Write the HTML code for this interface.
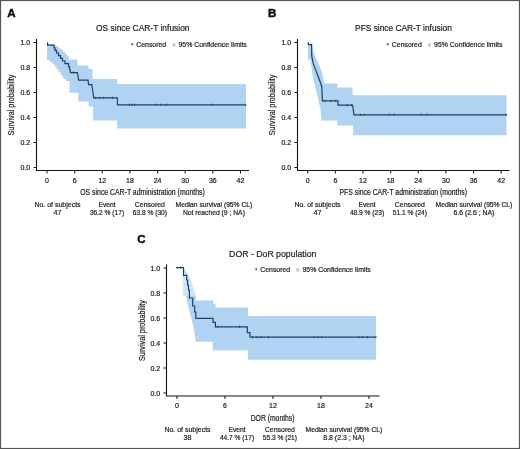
<!DOCTYPE html><html><head><meta charset="utf-8"><style>html,body{margin:0;padding:0;background:#fff;}svg{display:block;will-change:transform;}</style></head><body>
<svg width="520" height="449" viewBox="0 0 520 449" font-family='"Liberation Sans", sans-serif'>
<rect x="0" y="0" width="520" height="449" fill="#fff"/>
<text x="7.3" y="17.1" font-size="11.6" font-weight="bold" fill="#111" stroke="#111" stroke-width="0.45">A</text>
<text x="142.8" y="30.9" font-size="9" text-anchor="middle" font-weight="normal" fill="#222" stroke="#222" stroke-width="0.2" textLength="93.5" lengthAdjust="spacingAndGlyphs" >OS since CAR-T infusion</text>
<path d="M131.1,44.2h2.2M132.2,43.1v2.2" stroke="#333" stroke-width="0.75"/>
<text x="136.2" y="46.5" font-size="7" text-anchor="start" font-weight="normal" fill="#222" stroke="#222" stroke-width="0.2" textLength="30" lengthAdjust="spacingAndGlyphs" >Censored</text>
<rect x="172.3" y="43.4" width="3.2" height="3.2" fill="#b3d0ec"/>
<text x="178.5" y="46.5" font-size="7" text-anchor="start" font-weight="normal" fill="#222" stroke="#222" stroke-width="0.2" textLength="68.3" lengthAdjust="spacingAndGlyphs" >95% Confidence limits</text>
<polygon points="47.00,44.20 54.50,44.20 54.50,45.50 55.00,45.50 57.00,45.50 57.00,47.00 59.00,47.00 59.00,48.50 61.00,48.50 61.00,50.00 63.00,50.00 63.00,52.00 65.00,52.00 65.00,54.00 67.00,54.00 67.00,56.00 68.50,56.00 68.50,59.50 77.50,59.50 77.50,65.50 88.50,65.50 88.50,69.00 92.60,69.00 92.60,79.00 117.20,79.00 117.20,84.00 246.00,84.00 246.00,128.50 117.20,128.50 117.20,120.50 93.00,120.50 93.00,106.50 88.60,106.50 88.60,101.50 78.30,101.50 78.30,92.70 69.50,92.70 69.50,81.00 66.00,81.00 66.00,79.40 64.50,79.40 64.50,78.00 62.50,78.00 62.50,75.00 60.50,75.00 60.50,72.00 58.50,72.00 58.50,69.00 56.50,69.00 56.50,66.50 54.50,66.50 54.50,64.00 52.50,64.00 52.50,62.00 50.00,62.00 50.00,60.00 47.00,60.00" fill="#afd3f1"/>
<polyline points="47.60,42.30 47.60,45.20 54.00,45.20 54.00,47.80 55.00,47.80 55.00,50.40 56.50,50.40 56.50,53.00 58.50,53.00 58.50,55.70 60.50,55.70 60.50,58.40 62.50,58.40 62.50,61.00 65.00,61.00 65.00,63.70 68.50,63.70 68.50,66.50 69.50,66.50 69.50,69.50 70.00,69.50 70.50,72.60 77.30,72.60 78.00,76.00 78.60,80.20 88.00,80.20 88.60,84.60 91.80,84.60 92.30,88.00 93.10,93.00 93.70,97.90 117.40,97.90 117.40,104.80 246.00,104.80" fill="none" stroke="#1d4166" stroke-width="1.2" stroke-linejoin="miter"/>
<path d="M73.5,71.39999999999999v2.4" stroke="#1d4166" stroke-width="0.8"/>
<path d="M95.2,96.7v2.4" stroke="#1d4166" stroke-width="0.8"/>
<path d="M99.8,96.7v2.4" stroke="#1d4166" stroke-width="0.8"/>
<path d="M103.7,96.7v2.4" stroke="#1d4166" stroke-width="0.8"/>
<path d="M112.5,96.7v2.4" stroke="#1d4166" stroke-width="0.8"/>
<path d="M129.5,103.6v2.4" stroke="#1d4166" stroke-width="0.8"/>
<path d="M132.2,103.6v2.4" stroke="#1d4166" stroke-width="0.8"/>
<path d="M134.5,103.6v2.4" stroke="#1d4166" stroke-width="0.8"/>
<path d="M155.8,103.6v2.4" stroke="#1d4166" stroke-width="0.8"/>
<path d="M160.9,103.6v2.4" stroke="#1d4166" stroke-width="0.8"/>
<path d="M166.5,103.6v2.4" stroke="#1d4166" stroke-width="0.8"/>
<path d="M211.6,103.6v2.4" stroke="#1d4166" stroke-width="0.8"/>
<path d="M245.7,103.6v2.4" stroke="#1d4166" stroke-width="0.8"/>
<path d="M36.5,39V171.0M36.0,170.5H249" stroke="#111" stroke-width="1.1" fill="none"/>
<path d="M33.5,167.5H36.5" stroke="#111" stroke-width="1"/>
<text x="30.2" y="170.1" font-size="7" text-anchor="end" font-weight="normal" fill="#222" stroke="#222" stroke-width="0.2" >0.0</text>
<path d="M33.5,142.5H36.5" stroke="#111" stroke-width="1"/>
<text x="30.2" y="145.1" font-size="7" text-anchor="end" font-weight="normal" fill="#222" stroke="#222" stroke-width="0.2" >0.2</text>
<path d="M33.5,117.5H36.5" stroke="#111" stroke-width="1"/>
<text x="30.2" y="120.1" font-size="7" text-anchor="end" font-weight="normal" fill="#222" stroke="#222" stroke-width="0.2" >0.4</text>
<path d="M33.5,92.5H36.5" stroke="#111" stroke-width="1"/>
<text x="30.2" y="95.1" font-size="7" text-anchor="end" font-weight="normal" fill="#222" stroke="#222" stroke-width="0.2" >0.6</text>
<path d="M33.5,67.5H36.5" stroke="#111" stroke-width="1"/>
<text x="30.2" y="70.1" font-size="7" text-anchor="end" font-weight="normal" fill="#222" stroke="#222" stroke-width="0.2" >0.8</text>
<path d="M33.5,42.5H36.5" stroke="#111" stroke-width="1"/>
<text x="30.2" y="45.1" font-size="7" text-anchor="end" font-weight="normal" fill="#222" stroke="#222" stroke-width="0.2" >1.0</text>
<path d="M47.0,170.5v3" stroke="#111" stroke-width="1"/>
<text x="47.0" y="182.5" font-size="7" text-anchor="middle" font-weight="normal" fill="#222" stroke="#222" stroke-width="0.2" >0</text>
<path d="M74.64,170.5v3" stroke="#111" stroke-width="1"/>
<text x="74.64" y="182.5" font-size="7" text-anchor="middle" font-weight="normal" fill="#222" stroke="#222" stroke-width="0.2" >6</text>
<path d="M102.28,170.5v3" stroke="#111" stroke-width="1"/>
<text x="102.28" y="182.5" font-size="7" text-anchor="middle" font-weight="normal" fill="#222" stroke="#222" stroke-width="0.2" >12</text>
<path d="M129.92000000000002,170.5v3" stroke="#111" stroke-width="1"/>
<text x="129.92000000000002" y="182.5" font-size="7" text-anchor="middle" font-weight="normal" fill="#222" stroke="#222" stroke-width="0.2" >18</text>
<path d="M157.56,170.5v3" stroke="#111" stroke-width="1"/>
<text x="157.56" y="182.5" font-size="7" text-anchor="middle" font-weight="normal" fill="#222" stroke="#222" stroke-width="0.2" >24</text>
<path d="M185.2,170.5v3" stroke="#111" stroke-width="1"/>
<text x="185.2" y="182.5" font-size="7" text-anchor="middle" font-weight="normal" fill="#222" stroke="#222" stroke-width="0.2" >30</text>
<path d="M212.84,170.5v3" stroke="#111" stroke-width="1"/>
<text x="212.84" y="182.5" font-size="7" text-anchor="middle" font-weight="normal" fill="#222" stroke="#222" stroke-width="0.2" >36</text>
<path d="M240.48,170.5v3" stroke="#111" stroke-width="1"/>
<text x="240.48" y="182.5" font-size="7" text-anchor="middle" font-weight="normal" fill="#222" stroke="#222" stroke-width="0.2" >42</text>
<text x="142.5" y="195.1" font-size="8.2" text-anchor="middle" font-weight="normal" fill="#222" stroke="#222" stroke-width="0.2" textLength="124.5" lengthAdjust="spacingAndGlyphs" >OS since CAR-T administration (months)</text>
<text x="0" y="0" font-size="8.6" text-anchor="middle" fill="#222" stroke="#222" stroke-width="0.2" textLength="61" lengthAdjust="spacingAndGlyphs" transform="translate(14.2,105) rotate(-90)">Survival probability</text>
<text x="57.5" y="206.6" font-size="7" text-anchor="middle" font-weight="normal" fill="#222" stroke="#222" stroke-width="0.2" textLength="46.2" lengthAdjust="spacingAndGlyphs" >No. of subjects</text>
<text x="107" y="206.6" font-size="7" text-anchor="middle" font-weight="normal" fill="#222" stroke="#222" stroke-width="0.2" textLength="17.2" lengthAdjust="spacingAndGlyphs" >Event</text>
<text x="149.9" y="206.6" font-size="7" text-anchor="middle" font-weight="normal" fill="#222" stroke="#222" stroke-width="0.2" textLength="30.2" lengthAdjust="spacingAndGlyphs" >Censored</text>
<text x="213.9" y="206.6" font-size="7" text-anchor="middle" font-weight="normal" fill="#222" stroke="#222" stroke-width="0.2" textLength="76.6" lengthAdjust="spacingAndGlyphs" >Median survival (95% CL)</text>
<text x="57.5" y="214.7" font-size="7" text-anchor="middle" font-weight="normal" fill="#222" stroke="#222" stroke-width="0.2" textLength="8" lengthAdjust="spacingAndGlyphs" >47</text>
<text x="107" y="214.7" font-size="7" text-anchor="middle" font-weight="normal" fill="#222" stroke="#222" stroke-width="0.2" textLength="34.2" lengthAdjust="spacingAndGlyphs" >36.2 % (17)</text>
<text x="149.9" y="214.7" font-size="7" text-anchor="middle" font-weight="normal" fill="#222" stroke="#222" stroke-width="0.2" textLength="34.1" lengthAdjust="spacingAndGlyphs" >63.8 % (30)</text>
<text x="213.9" y="214.7" font-size="7" text-anchor="middle" font-weight="normal" fill="#222" stroke="#222" stroke-width="0.2" textLength="62" lengthAdjust="spacingAndGlyphs" >Not reached (9 ; NA)</text>
<text x="268" y="17.1" font-size="11.6" font-weight="bold" fill="#111" stroke="#111" stroke-width="0.45">B</text>
<text x="403.5" y="30.9" font-size="9" text-anchor="middle" font-weight="normal" fill="#222" stroke="#222" stroke-width="0.2" textLength="96.8" lengthAdjust="spacingAndGlyphs" >PFS since CAR-T infusion</text>
<path d="M386.69999999999993,44.2h2.2M387.79999999999995,43.1v2.2" stroke="#333" stroke-width="0.75"/>
<text x="391.79999999999995" y="46.5" font-size="7" text-anchor="start" font-weight="normal" fill="#222" stroke="#222" stroke-width="0.2" textLength="30" lengthAdjust="spacingAndGlyphs" >Censored</text>
<rect x="427.9" y="43.4" width="3.2" height="3.2" fill="#b3d0ec"/>
<text x="434.1" y="46.5" font-size="7" text-anchor="start" font-weight="normal" fill="#222" stroke="#222" stroke-width="0.2" textLength="68.3" lengthAdjust="spacingAndGlyphs" >95% Confidence limits</text>
<polygon points="308.00,43.80 311.70,43.80 312.50,48.00 314.80,55.60 318.50,63.50 321.80,71.20 323.40,78.90 324.00,83.50 337.40,83.50 337.40,87.50 352.60,87.50 352.60,95.30 506.50,95.30 506.50,135.30 353.20,135.30 353.20,125.50 337.40,125.50 337.40,120.50 321.50,120.50 320.50,109.00 317.10,94.50 313.20,78.90 310.90,63.40 310.50,59.40 308.00,59.40" fill="#afd3f1"/>
<polyline points="308.40,42.30 308.40,44.70 311.60,44.70 311.70,55.60 313.20,63.40 315.60,69.60 317.90,75.80 320.20,82.00 321.80,86.70 322.40,100.90 338.00,100.90 338.00,105.20 352.60,105.20 354.00,114.80 506.50,114.80" fill="none" stroke="#1d4166" stroke-width="1.2" stroke-linejoin="miter"/>
<path d="M325,99.7v2.4" stroke="#1d4166" stroke-width="0.8"/>
<path d="M331,99.7v2.4" stroke="#1d4166" stroke-width="0.8"/>
<path d="M335.7,99.7v2.4" stroke="#1d4166" stroke-width="0.8"/>
<path d="M347.2,104.0v2.4" stroke="#1d4166" stroke-width="0.8"/>
<path d="M351.5,104.0v2.4" stroke="#1d4166" stroke-width="0.8"/>
<path d="M360.6,113.6v2.4" stroke="#1d4166" stroke-width="0.8"/>
<path d="M364.4,113.6v2.4" stroke="#1d4166" stroke-width="0.8"/>
<path d="M389.4,113.6v2.4" stroke="#1d4166" stroke-width="0.8"/>
<path d="M394.2,113.6v2.4" stroke="#1d4166" stroke-width="0.8"/>
<path d="M421.2,113.6v2.4" stroke="#1d4166" stroke-width="0.8"/>
<path d="M427,113.6v2.4" stroke="#1d4166" stroke-width="0.8"/>
<path d="M506.3,113.6v2.4" stroke="#1d4166" stroke-width="0.8"/>
<path d="M297.5,39V171.0M297.0,170.5H509.5" stroke="#111" stroke-width="1.1" fill="none"/>
<path d="M294.5,167.5H297.5" stroke="#111" stroke-width="1"/>
<text x="291.2" y="170.1" font-size="7" text-anchor="end" font-weight="normal" fill="#222" stroke="#222" stroke-width="0.2" >0.0</text>
<path d="M294.5,142.5H297.5" stroke="#111" stroke-width="1"/>
<text x="291.2" y="145.1" font-size="7" text-anchor="end" font-weight="normal" fill="#222" stroke="#222" stroke-width="0.2" >0.2</text>
<path d="M294.5,117.5H297.5" stroke="#111" stroke-width="1"/>
<text x="291.2" y="120.1" font-size="7" text-anchor="end" font-weight="normal" fill="#222" stroke="#222" stroke-width="0.2" >0.4</text>
<path d="M294.5,92.5H297.5" stroke="#111" stroke-width="1"/>
<text x="291.2" y="95.1" font-size="7" text-anchor="end" font-weight="normal" fill="#222" stroke="#222" stroke-width="0.2" >0.6</text>
<path d="M294.5,67.5H297.5" stroke="#111" stroke-width="1"/>
<text x="291.2" y="70.1" font-size="7" text-anchor="end" font-weight="normal" fill="#222" stroke="#222" stroke-width="0.2" >0.8</text>
<path d="M294.5,42.5H297.5" stroke="#111" stroke-width="1"/>
<text x="291.2" y="45.1" font-size="7" text-anchor="end" font-weight="normal" fill="#222" stroke="#222" stroke-width="0.2" >1.0</text>
<path d="M307.7,170.5v3" stroke="#111" stroke-width="1"/>
<text x="307.7" y="182.5" font-size="7" text-anchor="middle" font-weight="normal" fill="#222" stroke="#222" stroke-width="0.2" >0</text>
<path d="M335.34,170.5v3" stroke="#111" stroke-width="1"/>
<text x="335.34" y="182.5" font-size="7" text-anchor="middle" font-weight="normal" fill="#222" stroke="#222" stroke-width="0.2" >6</text>
<path d="M362.98,170.5v3" stroke="#111" stroke-width="1"/>
<text x="362.98" y="182.5" font-size="7" text-anchor="middle" font-weight="normal" fill="#222" stroke="#222" stroke-width="0.2" >12</text>
<path d="M390.62,170.5v3" stroke="#111" stroke-width="1"/>
<text x="390.62" y="182.5" font-size="7" text-anchor="middle" font-weight="normal" fill="#222" stroke="#222" stroke-width="0.2" >18</text>
<path d="M418.26,170.5v3" stroke="#111" stroke-width="1"/>
<text x="418.26" y="182.5" font-size="7" text-anchor="middle" font-weight="normal" fill="#222" stroke="#222" stroke-width="0.2" >24</text>
<path d="M445.9,170.5v3" stroke="#111" stroke-width="1"/>
<text x="445.9" y="182.5" font-size="7" text-anchor="middle" font-weight="normal" fill="#222" stroke="#222" stroke-width="0.2" >30</text>
<path d="M473.53999999999996,170.5v3" stroke="#111" stroke-width="1"/>
<text x="473.53999999999996" y="182.5" font-size="7" text-anchor="middle" font-weight="normal" fill="#222" stroke="#222" stroke-width="0.2" >36</text>
<path d="M501.17999999999995,170.5v3" stroke="#111" stroke-width="1"/>
<text x="501.17999999999995" y="182.5" font-size="7" text-anchor="middle" font-weight="normal" fill="#222" stroke="#222" stroke-width="0.2" >42</text>
<text x="403.25" y="195.1" font-size="8.2" text-anchor="middle" font-weight="normal" fill="#222" stroke="#222" stroke-width="0.2" textLength="127.5" lengthAdjust="spacingAndGlyphs" >PFS since CAR-T administration (months)</text>
<text x="0" y="0" font-size="8.6" text-anchor="middle" fill="#222" stroke="#222" stroke-width="0.2" textLength="61" lengthAdjust="spacingAndGlyphs" transform="translate(275.2,105) rotate(-90)">Survival probability</text>
<text x="317.5" y="206.6" font-size="7" text-anchor="middle" font-weight="normal" fill="#222" stroke="#222" stroke-width="0.2" textLength="46.2" lengthAdjust="spacingAndGlyphs" >No. of subjects</text>
<text x="367" y="206.6" font-size="7" text-anchor="middle" font-weight="normal" fill="#222" stroke="#222" stroke-width="0.2" textLength="17.2" lengthAdjust="spacingAndGlyphs" >Event</text>
<text x="409.9" y="206.6" font-size="7" text-anchor="middle" font-weight="normal" fill="#222" stroke="#222" stroke-width="0.2" textLength="30.2" lengthAdjust="spacingAndGlyphs" >Censored</text>
<text x="473.9" y="206.6" font-size="7" text-anchor="middle" font-weight="normal" fill="#222" stroke="#222" stroke-width="0.2" textLength="76.6" lengthAdjust="spacingAndGlyphs" >Median survival (95% CL)</text>
<text x="317.5" y="214.7" font-size="7" text-anchor="middle" font-weight="normal" fill="#222" stroke="#222" stroke-width="0.2" textLength="8" lengthAdjust="spacingAndGlyphs" >47</text>
<text x="367" y="214.7" font-size="7" text-anchor="middle" font-weight="normal" fill="#222" stroke="#222" stroke-width="0.2" textLength="34.2" lengthAdjust="spacingAndGlyphs" >48.9 % (23)</text>
<text x="409.9" y="214.7" font-size="7" text-anchor="middle" font-weight="normal" fill="#222" stroke="#222" stroke-width="0.2" textLength="34.1" lengthAdjust="spacingAndGlyphs" >51.1 % (24)</text>
<text x="473.9" y="214.7" font-size="7" text-anchor="middle" font-weight="normal" fill="#222" stroke="#222" stroke-width="0.2" textLength="41" lengthAdjust="spacingAndGlyphs" >6.6 (2.6 ; NA)</text>
<text x="137.3" y="243" font-size="11.6" font-weight="bold" fill="#111" stroke="#111" stroke-width="0.45">C</text>
<text x="272.75" y="256.9" font-size="9" text-anchor="middle" font-weight="normal" fill="#222" stroke="#222" stroke-width="0.2" textLength="87.3" lengthAdjust="spacingAndGlyphs" >DOR - DoR population</text>
<path d="M255.1,269.2h2.2M256.2,268.09999999999997v2.2" stroke="#333" stroke-width="0.75"/>
<text x="260.2" y="271.5" font-size="7" text-anchor="start" font-weight="normal" fill="#222" stroke="#222" stroke-width="0.2" textLength="30" lengthAdjust="spacingAndGlyphs" >Censored</text>
<rect x="296.3" y="268.4" width="3.2" height="3.2" fill="#b3d0ec"/>
<text x="302.5" y="271.5" font-size="7" text-anchor="start" font-weight="normal" fill="#222" stroke="#222" stroke-width="0.2" textLength="68.3" lengthAdjust="spacingAndGlyphs" >95% Confidence limits</text>
<polygon points="183.40,267.50 184.40,268.80 186.80,272.00 190.80,280.00 193.20,288.00 195.70,296.00 196.00,300.60 213.30,300.60 213.30,304.00 215.40,304.00 215.40,307.50 248.00,307.50 248.00,316.00 376.00,316.00 376.00,359.70 248.00,359.70 248.00,350.30 212.70,350.30 212.70,341.70 195.60,341.70 195.60,340.00 193.40,326.80 191.20,317.90 187.80,304.50 186.00,296.00 183.20,296.00 183.20,268.00" fill="#afd3f1"/>
<polygon points="183.20,267.50 184.40,268.80 186.80,272.00 190.80,280.00 193.20,288.00 195.70,296.00 183.20,296.00" fill="#fff" fill-opacity="0.4"/>
<polyline points="176.30,267.60 183.50,267.60 183.50,275.40 186.70,275.40 186.70,280.00 187.60,280.00 187.60,285.00 188.50,285.00 188.50,290.00 189.40,290.00 189.40,298.00 192.70,298.00 192.70,306.00 194.70,306.00 194.70,312.00 195.80,312.00 195.80,318.30 213.00,318.30 213.00,322.40 215.40,322.40 215.40,326.80 247.30,326.80 247.30,332.70 250.00,332.70 250.00,337.10 376.00,337.10" fill="none" stroke="#1d4166" stroke-width="1.2" stroke-linejoin="miter"/>
<path d="M177.3,266.40000000000003v2.4" stroke="#1d4166" stroke-width="0.8"/>
<path d="M180.6,266.40000000000003v2.4" stroke="#1d4166" stroke-width="0.8"/>
<path d="M217.7,325.6v2.4" stroke="#1d4166" stroke-width="0.8"/>
<path d="M239.6,325.6v2.4" stroke="#1d4166" stroke-width="0.8"/>
<path d="M252.5,335.90000000000003v2.4" stroke="#1d4166" stroke-width="0.8"/>
<path d="M257,335.90000000000003v2.4" stroke="#1d4166" stroke-width="0.8"/>
<path d="M261.2,335.90000000000003v2.4" stroke="#1d4166" stroke-width="0.8"/>
<path d="M268.5,335.90000000000003v2.4" stroke="#1d4166" stroke-width="0.8"/>
<path d="M313.7,335.90000000000003v2.4" stroke="#1d4166" stroke-width="0.8"/>
<path d="M317.9,335.90000000000003v2.4" stroke="#1d4166" stroke-width="0.8"/>
<path d="M321.7,335.90000000000003v2.4" stroke="#1d4166" stroke-width="0.8"/>
<path d="M358.8,335.90000000000003v2.4" stroke="#1d4166" stroke-width="0.8"/>
<path d="M362.7,335.90000000000003v2.4" stroke="#1d4166" stroke-width="0.8"/>
<path d="M367.4,335.90000000000003v2.4" stroke="#1d4166" stroke-width="0.8"/>
<path d="M376,335.90000000000003v2.4" stroke="#1d4166" stroke-width="0.8"/>
<path d="M166.5,264.5V396.5M166.0,396H379.5" stroke="#111" stroke-width="1.1" fill="none"/>
<path d="M163.5,393H166.5" stroke="#111" stroke-width="1"/>
<text x="160.2" y="395.6" font-size="7" text-anchor="end" font-weight="normal" fill="#222" stroke="#222" stroke-width="0.2" >0.0</text>
<path d="M163.5,368H166.5" stroke="#111" stroke-width="1"/>
<text x="160.2" y="370.6" font-size="7" text-anchor="end" font-weight="normal" fill="#222" stroke="#222" stroke-width="0.2" >0.2</text>
<path d="M163.5,343H166.5" stroke="#111" stroke-width="1"/>
<text x="160.2" y="345.6" font-size="7" text-anchor="end" font-weight="normal" fill="#222" stroke="#222" stroke-width="0.2" >0.4</text>
<path d="M163.5,318H166.5" stroke="#111" stroke-width="1"/>
<text x="160.2" y="320.6" font-size="7" text-anchor="end" font-weight="normal" fill="#222" stroke="#222" stroke-width="0.2" >0.6</text>
<path d="M163.5,293H166.5" stroke="#111" stroke-width="1"/>
<text x="160.2" y="295.6" font-size="7" text-anchor="end" font-weight="normal" fill="#222" stroke="#222" stroke-width="0.2" >0.8</text>
<path d="M163.5,268H166.5" stroke="#111" stroke-width="1"/>
<text x="160.2" y="270.6" font-size="7" text-anchor="end" font-weight="normal" fill="#222" stroke="#222" stroke-width="0.2" >1.0</text>
<path d="M177,396v3" stroke="#111" stroke-width="1"/>
<text x="177" y="408" font-size="7" text-anchor="middle" font-weight="normal" fill="#222" stroke="#222" stroke-width="0.2" >0</text>
<path d="M225,396v3" stroke="#111" stroke-width="1"/>
<text x="225" y="408" font-size="7" text-anchor="middle" font-weight="normal" fill="#222" stroke="#222" stroke-width="0.2" >6</text>
<path d="M273,396v3" stroke="#111" stroke-width="1"/>
<text x="273" y="408" font-size="7" text-anchor="middle" font-weight="normal" fill="#222" stroke="#222" stroke-width="0.2" >12</text>
<path d="M321,396v3" stroke="#111" stroke-width="1"/>
<text x="321" y="408" font-size="7" text-anchor="middle" font-weight="normal" fill="#222" stroke="#222" stroke-width="0.2" >18</text>
<path d="M369,396v3" stroke="#111" stroke-width="1"/>
<text x="369" y="408" font-size="7" text-anchor="middle" font-weight="normal" fill="#222" stroke="#222" stroke-width="0.2" >24</text>
<text x="272.6" y="420.6" font-size="8.2" text-anchor="middle" font-weight="normal" fill="#222" stroke="#222" stroke-width="0.2" textLength="43.8" lengthAdjust="spacingAndGlyphs" >DOR (months)</text>
<text x="0" y="0" font-size="8.6" text-anchor="middle" fill="#222" stroke="#222" stroke-width="0.2" textLength="61" lengthAdjust="spacingAndGlyphs" transform="translate(145.2,330.5) rotate(-90)">Survival probability</text>
<text x="187.5" y="431.6" font-size="7" text-anchor="middle" font-weight="normal" fill="#222" stroke="#222" stroke-width="0.2" textLength="46.2" lengthAdjust="spacingAndGlyphs" >No. of subjects</text>
<text x="237" y="431.6" font-size="7" text-anchor="middle" font-weight="normal" fill="#222" stroke="#222" stroke-width="0.2" textLength="17.2" lengthAdjust="spacingAndGlyphs" >Event</text>
<text x="279.9" y="431.6" font-size="7" text-anchor="middle" font-weight="normal" fill="#222" stroke="#222" stroke-width="0.2" textLength="30.2" lengthAdjust="spacingAndGlyphs" >Censored</text>
<text x="343.9" y="431.6" font-size="7" text-anchor="middle" font-weight="normal" fill="#222" stroke="#222" stroke-width="0.2" textLength="76.6" lengthAdjust="spacingAndGlyphs" >Median survival (95% CL)</text>
<text x="187.5" y="439.7" font-size="7" text-anchor="middle" font-weight="normal" fill="#222" stroke="#222" stroke-width="0.2" textLength="8" lengthAdjust="spacingAndGlyphs" >38</text>
<text x="237" y="439.7" font-size="7" text-anchor="middle" font-weight="normal" fill="#222" stroke="#222" stroke-width="0.2" textLength="34.2" lengthAdjust="spacingAndGlyphs" >44.7 % (17)</text>
<text x="279.9" y="439.7" font-size="7" text-anchor="middle" font-weight="normal" fill="#222" stroke="#222" stroke-width="0.2" textLength="34.1" lengthAdjust="spacingAndGlyphs" >55.3 % (21)</text>
<text x="343.9" y="439.7" font-size="7" text-anchor="middle" font-weight="normal" fill="#222" stroke="#222" stroke-width="0.2" textLength="41.2" lengthAdjust="spacingAndGlyphs" >8.8 (2.3 ; NA)</text>
<rect x="0.5" y="0.5" width="519" height="448" fill="none" stroke="#555" stroke-width="1.2"/>
</svg></body></html>
